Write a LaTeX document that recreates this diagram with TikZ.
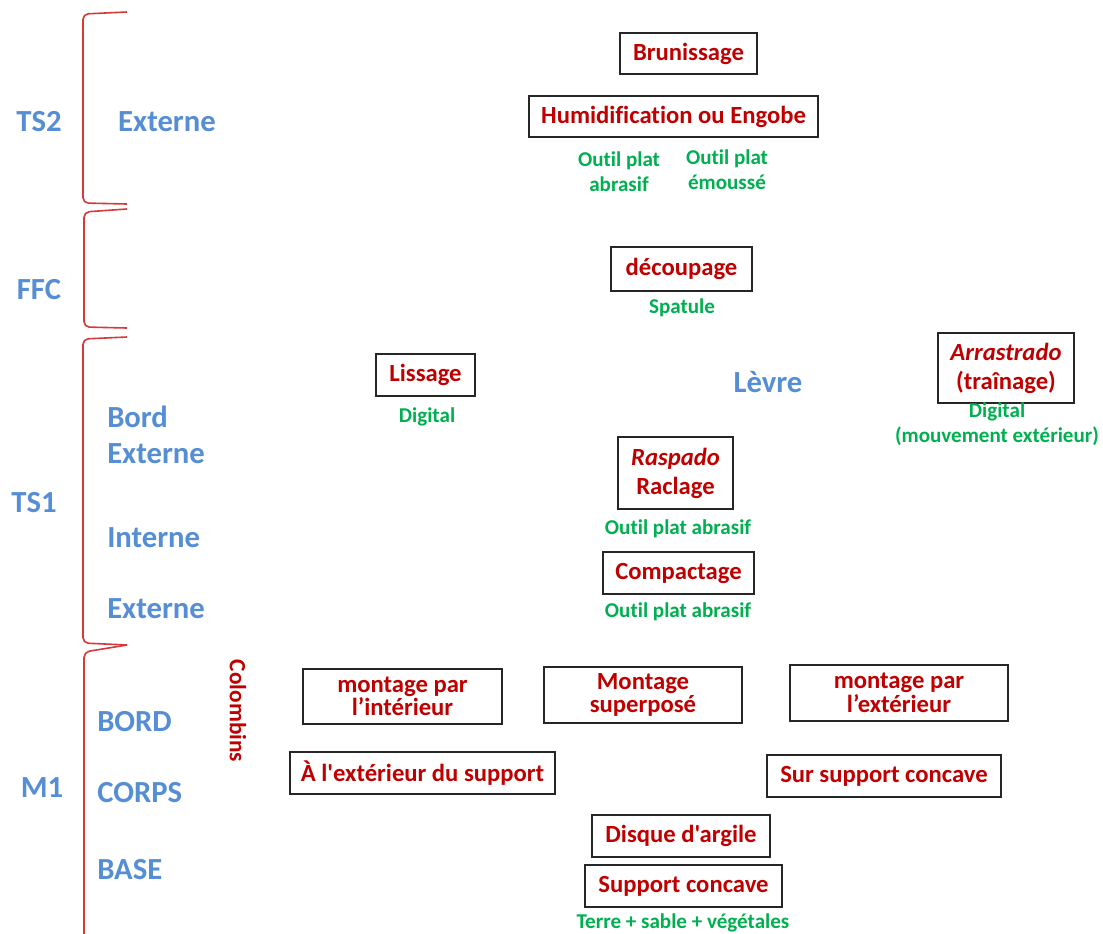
\documentclass[tikz,border=0pt]{standalone}
\usepackage{fontspec}
\setmainfont{Carlito}[Ligatures={TeXOff,CommonOff}]
\definecolor{tred}{HTML}{C00000}
\definecolor{tgreen}{HTML}{00B050}
\definecolor{tblue}{HTML}{558ED5}
\definecolor{bred}{HTML}{D43A3A}
\begin{document}
\begin{tikzpicture}[x=0.75pt,y=-0.75pt,
  box/.style={draw=black!85,line width=0.9pt,text=tred,inner sep=0pt,align=center,
    font=\bfseries\fontsize{18.5}{21.75}\selectfont},
  tight/.style={font=\bfseries\fontsize{18.5}{15}\selectfont},
  grn/.style={text=tgreen,inner sep=0pt,align=center,font=\bfseries\fontsize{15.8}{19}\selectfont},
  lbl/.style={text=tblue,inner sep=0pt,font=\bfseries\fontsize{23}{27}\selectfont},
  brc/.style={draw=bred,line width=1.2pt,rounded corners=4pt}]
\useasboundingbox[fill=white] (0,0) rectangle (1103,933);
% braces
\draw[brc] (127,12) -- (83,14) -- (83,203) -- (127,204);
\draw[brc] (127,209) -- (84,212) -- (84,327) -- (127,328);
\draw[brc] (127,337) -- (83,339) -- (83,643) -- (127,645);
\draw[brc] (127,645) -- (84,652) -- (84,945);
% left labels
\node[lbl] (ts2) at (39,122) {TS2};
\node[lbl] (ts2e) at (167,122) {Externe};
\node[lbl] (ffc) at (39,290) {FFC};
\node[lbl] (ts1) at (34,503) {TS1};
\node[lbl,anchor=west] (bord) at (107,417) {Bord};
\node[lbl,anchor=west] (bext) at (107,454) {Externe};
\node[lbl,anchor=west] (int) at (107,538) {Interne};
\node[lbl,anchor=west] (ext) at (107,609) {Externe};
\node[lbl] (m1) at (42,788) {M1};
\node[lbl,anchor=west] (mbord) at (97,722) {BORD};
\node[lbl,anchor=west] (corps) at (97,793) {CORPS};
\node[lbl,anchor=west] (base) at (97,870) {BASE};
\node[lbl] (levre) at (768,382) {Lèvre};
\node[text=tred,inner sep=0pt,rotate=-90,font=\bfseries\fontsize{17.5}{20}\selectfont] (colomb) at (238,711) {Colombins};
% boxes
\node[box,minimum width=102.75pt,minimum height=30.75pt] (brun) at (688.5,53.5) {Brunissage};
\node[box,minimum width=216.75pt,minimum height=30.75pt] (humid) at (673.5,116.5) {Humidification ou Engobe};
\node[box,minimum width=105.75pt,minimum height=33pt] (decoup) at (681.5,269) {découpage};
\node[box,minimum width=74.25pt,minimum height=31.5pt] (liss) at (425.5,375) {Lissage};
\node[box,minimum width=102pt,minimum height=52.5pt] (arra) at (1006,368) {\textit{Arrastrado}\\(traînage)};
\node[box,minimum width=86.25pt,minimum height=54pt] (rasp) at (675.5,473) {\textit{Raspado}\\Raclage};
\node[box,minimum width=113.25pt,minimum height=31.5pt] (compa) at (678.5,573) {Compactage};
\node[box,tight,minimum width=149.25pt,minimum height=41.25pt] (mint) at (402.5,696.5) {montage par\\l’intérieur};
\node[box,tight,minimum width=148.5pt,minimum height=42pt] (msup) at (643,695) {Montage\\superposé};
\node[box,tight,minimum width=163.5pt,minimum height=42pt] (mext) at (899,693) {montage par\\l’extérieur};
\node[box,minimum width=198.75pt,minimum height=31.5pt] (aext) at (422.5,773) {À l'extérieur du support};
\node[box,minimum width=175.5pt,minimum height=31.5pt] (sursup) at (884,776) {Sur support concave};
\node[box,minimum width=133.5pt,minimum height=31.5pt] (disque) at (681,836) {Disque d'argile};
\node[box,minimum width=147.75pt,minimum height=31.5pt] (supcon) at (683.5,886) {Support concave};
% green tool labels
\node[grn] (g1) at (619,172) {Outil plat\\abrasif};
\node[grn] (g2) at (727,170) {Outil plat\\émoussé};
\node[grn] (g3) at (682,308) {Spatule};
\node[grn] (g4) at (427,417) {Digital};
\node[grn] (g5) at (997,424) {Digital\\(mouvement extérieur)};
\node[grn] (g6) at (678,529) {Outil plat abrasif};
\node[grn] (g7) at (678,612) {Outil plat abrasif};
\node[grn] (g8) at (683,923) {Terre + sable + végétales};
\end{tikzpicture}
\end{document}
